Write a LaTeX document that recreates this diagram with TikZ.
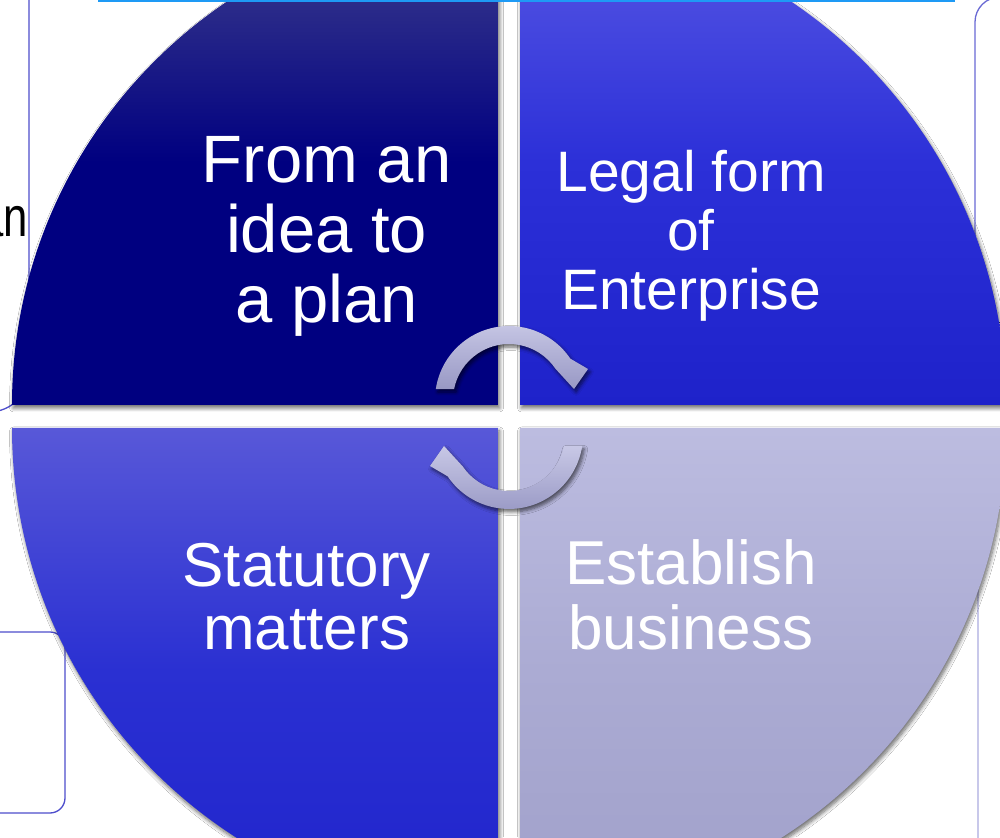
\documentclass[tikz,border=0pt]{standalone}
\usepackage{fontspec}
\setmainfont{Liberation Sans}
\usetikzlibrary{shadows.blur}

\definecolor{tlTop}{HTML}{42428E}
\definecolor{tlMid}{HTML}{000080}
\definecolor{trTop}{HTML}{5858E4}
\definecolor{trMid}{HTML}{2C30D8}
\definecolor{trBot}{HTML}{1E22CA}
\definecolor{blTop}{HTML}{5858D8}
\definecolor{blMid}{HTML}{2A30D2}
\definecolor{blBot}{HTML}{2024CC}
\definecolor{brTop}{HTML}{BCBCE0}
\definecolor{brMid}{HTML}{ABABD3}
\definecolor{brBot}{HTML}{A0A0CA}
\definecolor{arrTop}{HTML}{C8C8E6}
\definecolor{arrBot}{HTML}{9898C4}
\definecolor{frameBlue}{HTML}{4E4ECC}
\definecolor{frameLight}{HTML}{C8C8EA}
\definecolor{barBlue}{HTML}{1E9AF5}

\tikzset{
  quadshadow/.style={blur shadow={shadow xshift=1.5pt, shadow yshift=-3pt,
      shadow blur radius=4pt, shadow blur steps=8, shadow opacity=60}},
  arrowshadow/.style={blur shadow={shadow xshift=2pt, shadow yshift=-3pt,
      shadow blur radius=3.5pt, shadow blur steps=6, shadow opacity=60}},
  framebox/.style={draw=frameBlue, line width=1.3pt},
  cyclearrow/.style={arrowshadow, top color=arrTop, bottom color=arrBot},
  lbl/.style={text=white, inner sep=0pt, anchor=base},
}

\begin{document}
\begin{tikzpicture}[x=1pt,y=1pt]
\useasboundingbox (0,0) rectangle (1000,837);
\clip (0,0) rectangle (1000,837);
\fill[white] (0,0) rectangle (1000,837);

% surrounding frames and the stray label at the left
\draw[framebox, rounded corners=40pt] (-100,900) -- (29,900) -- (29,425) -- (-100,425);
\node[anchor=base east, inner sep=0pt, font=\fontsize{56}{60}\selectfont] (sidelabel)
  at (28,600) {\scalebox{0.78}[1]{an}};
\draw[framebox, rounded corners=15pt] (-30,205) -- (65,205) -- (65,24) -- (-30,24);
\draw[draw=frameBlue!85, line width=1.3pt, rounded corners=25pt] (1030,840) -- (975,840) -- (975,450);
\draw[draw=frameLight, line width=1.3pt] (978,397) -- (978,-5);
\draw[draw=frameBlue!60!black, line width=1pt] (985,514) -- (1005,514);

% four quarter discs
\path[quadshadow, top color=tlTop, bottom color=tlMid, middle color=tlMid]
  (498,432) -- (12,432) arc[start angle=180, end angle=90, radius=486] -- cycle;
\path[quadshadow, top color=trTop, bottom color=trBot, middle color=trMid]
  (520,432) -- (1006,432) arc[start angle=0, end angle=90, radius=486] -- cycle;
\path[quadshadow, top color=blTop, bottom color=blBot, middle color=blMid]
  (498,409) -- (12,409) arc[start angle=180, end angle=270, radius=486] -- cycle;
\path[quadshadow, top color=brTop, bottom color=brBot, middle color=brMid]
  (520,409) -- (1006,409) arc[start angle=0, end angle=-90, radius=486] -- cycle;

% circular arrows in the middle
\path[cyclearrow]
  (435.8,447.9) arc[start angle=171.5, end angle=34, radius=74]
  -- (588,468) -- (574,448) -- (555.4,468.3)
  arc[start angle=34, end angle=168.7, radius=56] -- cycle;
\path[cyclearrow]
  (582.2,391.1) arc[start angle=-8.5, end angle=-146, radius=74]
  -- (430,371) -- (444,391) -- (462.6,370.7)
  arc[start angle=-146, end angle=-11.3, radius=56] -- cycle;

% quadrant labels
\node[lbl, font=\fontsize{67}{70}\selectfont] (ideaplan) at (326.7,654)
  {\begin{tabular}[t]{@{}c@{}}From an\\idea to\\a plan\end{tabular}};
\node[lbl, font=\fontsize{57}{58.5}\selectfont] (legalform) at (691,645)
  {\begin{tabular}[t]{@{}c@{}}Legal form\\of\\Enterprise\end{tabular}};
\node[lbl, font=\fontsize{62}{63.3}\selectfont] (statutory) at (306.7,250.3)
  {\begin{tabular}[t]{@{}c@{}}Statutory\\matters\end{tabular}};
\node[lbl, font=\fontsize{62}{65}\selectfont] (establish) at (690.8,252)
  {\begin{tabular}[t]{@{}c@{}}Establish\\business\end{tabular}};

% thin bar along the top edge
\fill[barBlue] (98,834.5) rectangle (955,837.5);
\end{tikzpicture}
\end{document}
